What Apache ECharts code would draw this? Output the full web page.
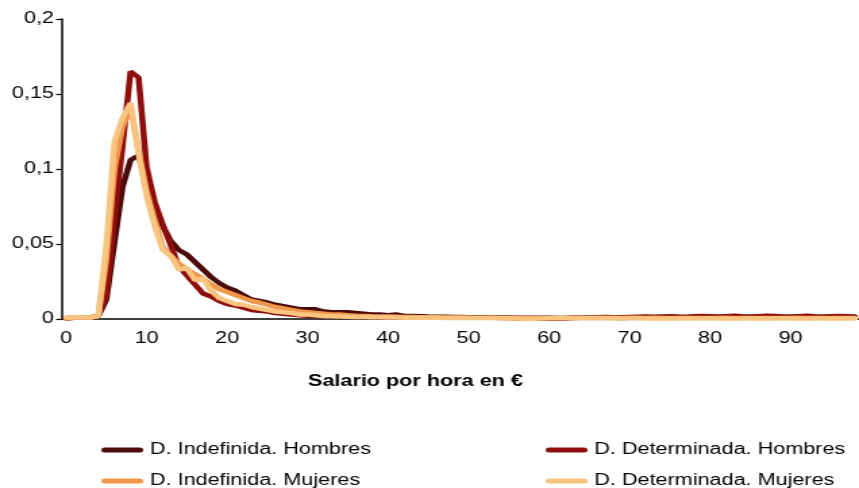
<!DOCTYPE html>
<html><head><meta charset="utf-8">
<script src="https://cdn.jsdelivr.net/npm/echarts@6/dist/echarts.min.js"></script>
<style>
html,body{margin:0;padding:0;background:#fff;overflow:hidden;}
#wrap{width:859px;height:488px;overflow:hidden;}
#chart{width:636px;height:488px;transform:scaleX(1.3506);transform-origin:0 0;}
</style></head><body><div id="wrap"><div id="chart"></div></div>
<script>
// categories: hourly wage in euros, 0..98
const categories = Array.from({length: 99}, (_, i) => String(i));
const yTickValues = [0, 0.05, 0.1, 0.15, 0.2];
const seriesNames = ['D. Indefinida. Hombres', 'D. Determinada. Hombres', 'D. Indefinida. Mujeres', 'D. Determinada. Mujeres'];

const indefHombres = [
  0.0005, 0.0008, 0.001, 0.001, 0.002, 0.013, 0.051, 0.088, 0.106, 0.109,
  0.09, 0.074, 0.062, 0.052, 0.046, 0.043, 0.038, 0.033, 0.028, 0.024,
  0.021, 0.019, 0.016, 0.013, 0.012, 0.011, 0.0095, 0.0085, 0.0075, 0.0065,
  0.0065, 0.0065, 0.005, 0.0045, 0.0045, 0.0045, 0.004, 0.0035, 0.003, 0.003,
  0.0025, 0.003, 0.002, 0.002, 0.0018, 0.0016, 0.0015, 0.0015, 0.0014, 0.0013,
  0.0012, 0.0012, 0.0011, 0.001, 0.001, 0.001, 0.0009, 0.0009, 0.0008, 0.0008,
  0.0008, 0.0007, 0.0008, 0.001, 0.0009, 0.0008, 0.0009, 0.001, 0.0008, 0.0007,
  0.0008, 0.001, 0.0011, 0.001, 0.0009, 0.001, 0.0012, 0.001, 0.0009, 0.001,
  0.0011, 0.0012, 0.0011, 0.001, 0.0012, 0.0013, 0.0012, 0.0011, 0.0012, 0.0013,
  0.0012, 0.0011, 0.0012, 0.0014, 0.0012, 0.0011, 0.0013, 0.0012, 0.0011
];
const detHombres = [
  0.0005, 0.0008, 0.001, 0.001, 0.002, 0.016, 0.068, 0.115, 0.165, 0.161,
  0.101, 0.078, 0.063, 0.049, 0.035, 0.029, 0.023, 0.017, 0.015, 0.012,
  0.01, 0.009, 0.0075, 0.006, 0.0055, 0.005, 0.004, 0.0035, 0.003, 0.0025,
  0.0022, 0.002, 0.002, 0.0018, 0.0017, 0.0016, 0.0015, 0.0015, 0.0014, 0.0013,
  0.0013, 0.0012, 0.0012, 0.0011, 0.0011, 0.001, 0.001, 0.001, 0.0009, 0.0009,
  0.0009, 0.0008, 0.0008, 0.0008, 0.0007, 0.0006, 0.0005, 0.0004, 0.0003, 0.0002,
  0.0002, 0.0003, 0.0004, 0.0006, 0.0008, 0.001, 0.0012, 0.0013, 0.0012, 0.0011,
  0.0013, 0.0015, 0.0016, 0.0015, 0.0017, 0.0018, 0.0016, 0.0015, 0.0018, 0.002,
  0.0019, 0.0017, 0.0019, 0.0021, 0.0018, 0.0016, 0.0019, 0.0021, 0.002, 0.0017,
  0.0016, 0.0019, 0.0021, 0.0018, 0.0016, 0.0018, 0.002, 0.0019, 0.0017
];
const indefMujeres = [
  0.0005, 0.001, 0.0012, 0.001, 0.002, 0.04, 0.1, 0.128, 0.141, 0.112,
  0.085, 0.066, 0.048, 0.042, 0.037, 0.033, 0.03, 0.027, 0.023, 0.02,
  0.018, 0.016, 0.014, 0.012, 0.011, 0.0095, 0.008, 0.007, 0.006, 0.005,
  0.0045, 0.004, 0.0035, 0.003, 0.003, 0.0025, 0.0022, 0.002, 0.0018, 0.0017,
  0.0016, 0.0015, 0.0014, 0.0013, 0.0012, 0.0012, 0.0011, 0.001, 0.001, 0.001,
  0.0009, 0.0009, 0.0009, 0.0008, 0.0008, 0.0008, 0.0007, 0.0007, 0.0007, 0.0006,
  0.0006, 0.0006, 0.0006, 0.0007, 0.0007, 0.0006, 0.0006, 0.0007, 0.0008, 0.0007,
  0.0006, 0.0006, 0.0007, 0.0008, 0.0007, 0.0006, 0.0006, 0.0007, 0.0007, 0.0006,
  0.0006, 0.0007, 0.0008, 0.0007, 0.0006, 0.0006, 0.0007, 0.0007, 0.0006, 0.0006,
  0.0007, 0.0008, 0.0007, 0.0006, 0.0006, 0.0007, 0.0007, 0.0006, 0.0006
];
const detMujeres = [
  0.001, 0.0012, 0.001, 0.001, 0.002, 0.05, 0.118, 0.134, 0.144, 0.11,
  0.082, 0.062, 0.046, 0.042, 0.033, 0.034, 0.026, 0.027, 0.019, 0.014,
  0.012, 0.01, 0.0095, 0.008, 0.007, 0.006, 0.005, 0.0045, 0.004, 0.003,
  0.003, 0.0025, 0.002, 0.0018, 0.0016, 0.0015, 0.0014, 0.0013, 0.0012, 0.0011,
  0.001, 0.001, 0.0009, 0.0009, 0.0008, 0.0008, 0.0008, 0.0007, 0.0007, 0.0007,
  0.0006, 0.0006, 0.0006, 0.0006, 0.0005, 0.0005, 0.0003, 0.0002, 0.0002, 0.0003,
  0.0005, 0.0007, 0.0008, 0.0007, 0.0006, 0.0006, 0.0007, 0.0006, 0.0005, 0.0005,
  0.0006, 0.0006, 0.0005, 0.0004, 0.0003, 0.0004, 0.0005, 0.0005, 0.0005, 0.0005,
  0.0005, 0.0005, 0.0004, 0.0004, 0.0005, 0.0005, 0.0004, 0.0004, 0.0005, 0.0005,
  0.0005, 0.0004, 0.0004, 0.0005, 0.0005, 0.0004, 0.0004, 0.0005, 0.0005
];

const colors = ['#4b0b0b', '#8f0d0d', '#f0964a', '#f9c47f'];
const FONT = 'Liberation Sans, Arial, sans-serif';
const capsule = 'path://M2.5,0 L28.5,0 A2.5,2.5 0 0 1 28.5,5 L2.5,5 A2.5,2.5 0 0 1 2.5,0 Z';

function fmtY(v) {
  if (v === 0) return '0';
  return String(+v.toFixed(2)).replace('.', ',');
}

const chart = echarts.init(document.getElementById('chart'), null, {renderer: 'canvas'});
const legendPos = [[70, 437], [399, 437], [70, 468], [399, 468]];
const dataArr = [indefHombres, detHombres, indefMujeres, detMujeres];
chart.setOption({
  animation: false,
  color: colors,
  grid: {left: 46, right: 0, top: 19, bottom: 169, containLabel: false},
  xAxis: {
    type: 'category', data: categories, boundaryGap: true,
    axisLine: {lineStyle: {color: '#000', width: 1.5}},
    axisTick: {interval: 9, length: 4, lineStyle: {color: '#000', width: 1.2}},
    axisLabel: {interval: 9, margin: 12, fontSize: 16, color: '#000', fontFamily: FONT},
    splitLine: {show: false}
  },
  yAxis: {
    type: 'value', min: 0, max: 0.2, interval: 0.05,
    axisLine: {show: true, lineStyle: {color: '#000', width: 1.5}},
    axisTick: {show: true, length: 4.4, lineStyle: {color: '#000', width: 1.2}},
    axisLabel: {margin: 6, fontSize: 16, color: '#000', fontFamily: FONT, formatter: fmtY},
    splitLine: {show: false}
  },
  legend: seriesNames.map((n, i) => ({
    data: [n], left: legendPos[i][0], top: legendPos[i][1],
    itemWidth: 31, itemHeight: 5, icon: capsule, selectedMode: false,
    textStyle: {fontSize: 16, color: '#000', fontFamily: FONT}
  })),
  graphic: [{
    type: 'text', left: 228, top: 374,
    style: {text: 'Salario por hora en €', font: 'bold 16px ' + FONT, fill: '#000'}
  }],
  series: seriesNames.map((n, i) => ({
    name: n, type: 'line', data: dataArr[i], symbol: 'none', showSymbol: false,
    lineStyle: {width: 4.5, color: colors[i], cap: 'round'}, z: 2 + i
  }))
});
</script></body></html>
